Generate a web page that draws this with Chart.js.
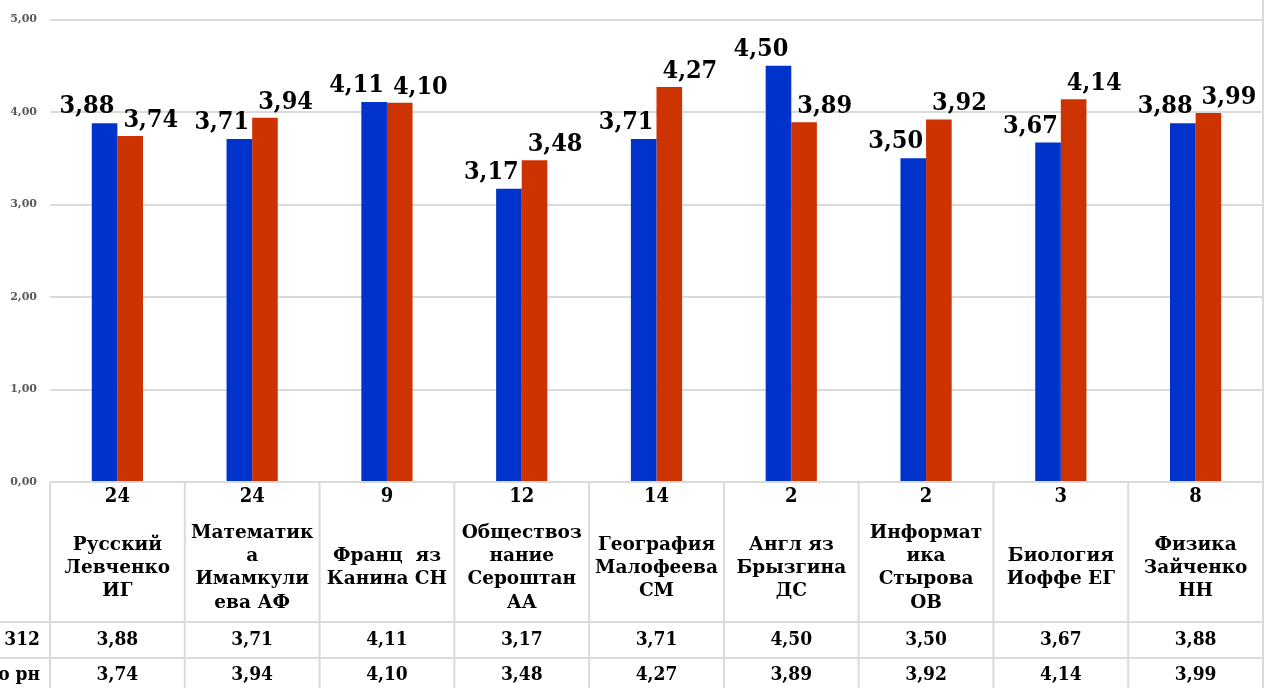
<!DOCTYPE html>
<html><head><meta charset="utf-8">
<script src="https://cdn.jsdelivr.net/npm/chart.js@4"></script>
<style>html,body{margin:0;padding:0;background:#fff;overflow:hidden}canvas{display:block}</style>
</head><body>
<canvas id="c" width="1264" height="688"></canvas>
<script>
// ---- data ----
const counts = ['24','24','9','12','14','2','2','3','8'];
const categories = [
  ['Русский','Левченко','ИГ'],
  ['Математик','а','Имамкули','ева АФ'],
  ['Франц  яз','Канина СН'],
  ['Обществоз','нание','Сероштан','АА'],
  ['География','Малофеева','СМ'],
  ['Англ яз','Брызгина','ДС'],
  ['Информат','ика','Стырова','ОВ'],
  ['Биология','Иоффе ЕГ'],
  ['Физика','Зайченко','НН']
];
const seriesNames = ['ГБОУ 312','Ср по рн'];
const school = [3.88,3.71,4.11,3.17,3.71,4.50,3.50,3.67,3.88];
const district = [3.74,3.94,4.10,3.48,4.27,3.89,3.92,4.14,3.99];
const yTicks = [0,1,2,3,4,5];

const FAMC = "'DejaVu Serif Condensed','DejaVu Serif',serif";
const FAM = "'DejaVu Serif',serif";
const fmt = v => v.toFixed(2).replace('.', ',');
const GRID = '#dadada';

const labelPlugin = {
  id: 'labels',
  afterDatasetsDraw(chart) {
    const ctx = chart.ctx;
    ctx.save();
    ctx.font = `bold 25px ${FAMC}`;
    ctx.fillStyle = '#000';
    ctx.textBaseline = 'alphabetic';
    chart.data.datasets.forEach((ds, di) => {
      const meta = chart.getDatasetMeta(di);
      meta.data.forEach((el, i) => {
        const t = fmt(ds.data[i]);
        if (di === 0) {
          ctx.textAlign = 'right';
          ctx.fillText(t, el.x + el.width / 2 - 3, el.y - 10);
        } else {
          ctx.textAlign = 'left';
          ctx.fillText(t, el.x - el.width / 2 + 6, el.y - 9);
        }
      });
    });
    ctx.restore();
  }
};

const tablePlugin = {
  id: 'table',
  afterDraw(chart) {
    const ctx = chart.ctx;
    const xs = chart.scales.x;
    const area = chart.chartArea;
    const n = categories.length;
    const cw = (area.right - area.left) / n;
    const top = area.bottom;
    const r1 = top + 140, r2 = r1 + 36, bot = chart.height;
    ctx.save();
    ctx.strokeStyle = GRID;
    ctx.lineWidth = 2;
    ctx.beginPath();
    ctx.moveTo(area.left, top); ctx.lineTo(area.right, top);
    ctx.moveTo(0, r1); ctx.lineTo(area.right, r1);
    ctx.moveTo(0, r2); ctx.lineTo(area.right, r2);
    for (let i = 0; i <= n; i++) {
      const x = area.left + i * cw;
      ctx.moveTo(x, top); ctx.lineTo(x, bot);
    }
    ctx.moveTo(area.right, 0); ctx.lineTo(area.right, bot);
    ctx.stroke();

    ctx.fillStyle = '#000';
    ctx.textAlign = 'center';
    ctx.textBaseline = 'middle';
    const lh = 23.3;
    for (let i = 0; i < n; i++) {
      const cx = xs.getPixelForValue(i);
      ctx.font = `bold 20px ${FAMC}`;
      ctx.fillText(counts[i], cx, top + 15);
      ctx.font = `bold 19px ${FAMC}`;
      ctx.fillText(fmt(school[i]), cx, (r1 + r2) / 2);
      ctx.fillText(fmt(district[i]), cx, (r2 + bot) / 2 + 2);
      ctx.font = `bold 18.5px ${FAM}`;
      const lines = categories[i];
      const mid = top + 86;
      lines.forEach((ln, k) => {
        ctx.fillText(ln, cx, mid + (k - (lines.length - 1) / 2) * lh);
      });
    }
    ctx.font = `bold 19px ${FAMC}`;
    ctx.textAlign = 'right';
    ctx.fillText(seriesNames[0], 40, (r1 + r2) / 2);
    ctx.fillText(seriesNames[1], 40, (r2 + bot) / 2 + 2);
    ctx.restore();
  }
};

new Chart(document.getElementById('c'), {
  type: 'bar',
  data: {
    labels: categories.map(c => c.join(' ')),
    datasets: [
      { label: seriesNames[0], data: school, backgroundColor: '#0033CC', categoryPercentage: 0.38, barPercentage: 1.0 },
      { label: seriesNames[1], data: district, backgroundColor: '#CC3300', categoryPercentage: 0.38, barPercentage: 1.0 }
    ]
  },
  options: {
    responsive: false,
    animation: false,
    layout: { padding: { left: 0, right: 1, top: 19, bottom: 206 } },
    plugins: { legend: { display: false }, tooltip: { enabled: false } },
    scales: {
      x: { display: false },
      y: {
        min: 0, max: 5,
        afterFit(s) { s.width = 50; },
        afterBuildTicks(s) { s.ticks = yTicks.map(v => ({ value: v })); },
        border: { display: false },
        grid: { color: GRID, lineWidth: 2, drawTicks: false },
        ticks: {
          padding: 13,
          color: '#595959',
          font: { family: FAM, size: 11, weight: 'bold' },
          callback: v => fmt(v)
        }
      }
    }
  },
  plugins: [labelPlugin, tablePlugin]
});
</script>
</body></html>
